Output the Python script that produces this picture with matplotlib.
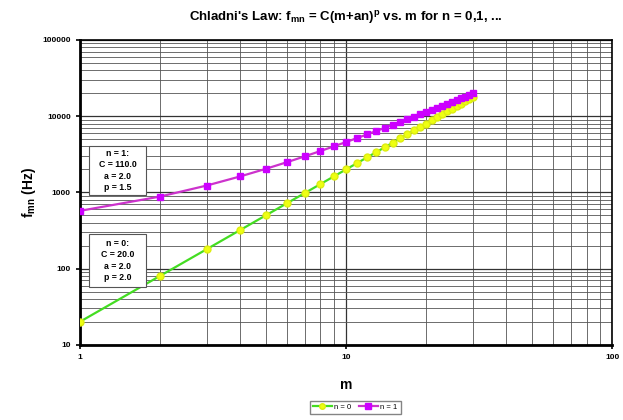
import matplotlib
matplotlib.use("Agg")
import matplotlib.pyplot as plt
from matplotlib.patches import Rectangle
from matplotlib.ticker import FixedLocator, FixedFormatter, NullFormatter, LogLocator

plt.rcParams["font.family"] = ["Liberation Sans", "DejaVu Sans"]
plt.rcParams["mathtext.fontset"] = "custom"
plt.rcParams["mathtext.rm"] = "Liberation Sans:bold"
plt.rcParams["mathtext.bf"] = "Liberation Sans:bold"
plt.rcParams["mathtext.it"] = "Liberation Sans:bold:italic"
plt.rcParams["mathtext.default"] = "bf"

# mode number m
m = list(range(1, 31))

# n = 0 series (C=20, a=2, p=2)
f_n0 = [20, 80, 180, 320, 500, 720, 980, 1280, 1620, 2000,
        2420, 2880, 3380, 3920, 4500, 5120, 5780, 6480, 7220, 8000,
        8820, 9680, 10580, 11520, 12500, 13520, 14580, 15680, 16820, 18000]

# n = 1 series (C=110, a=2, p=1.5)
f_n1 = [571.6, 880.0, 1229.8, 1616.7, 2037.2, 2489.0, 2970.0, 3478.5, 4013.1, 4572.6,
        5155.9, 5762.2, 6390.4, 7040.0, 7710.2, 8400.4, 9110.1, 9838.7, 10585.8, 11350.8,
        12133.4, 12933.3, 13750.0, 14583.3, 15432.6, 16297.8, 17178.7, 18074.8, 18986.1, 19912.1]

y_ticks = [10, 100, 1000, 10000, 100000]
x_ticks = [1, 10, 100]

box_n1 = "n = 1:\nC = 110.0\na = 2.0\np = 1.5"
box_n0 = "n = 0:\nC = 20.0\na = 2.0\np = 2.0"

fig = plt.figure(figsize=(6.23, 4.2), dpi=100)
ax = fig.add_axes([0.128, 0.179, 0.855, 0.726])

ax.set_xscale("log")
ax.set_yscale("log")
ax.set_xlim(1, 100)
ax.set_ylim(10, 100000)

ax.plot(m, f_n0, color="#44dd22", lw=1.6, marker="o", ms=5,
        mfc="#eeff11", mec="#dded11", label="n = 0", zorder=3)
ax.plot(m, f_n1, color="#cc33cc", lw=1.6, marker="s", ms=5,
        mfc="#cc00ff", mec="#cc00ff", label="n = 1", zorder=4)

ax.yaxis.set_major_locator(FixedLocator(y_ticks))
ax.yaxis.set_major_formatter(FixedFormatter([str(v) for v in y_ticks]))
ax.xaxis.set_major_locator(FixedLocator(x_ticks))
ax.xaxis.set_major_formatter(FixedFormatter([str(v) for v in x_ticks]))
ax.yaxis.set_minor_locator(LogLocator(base=10, subs=range(2, 10), numticks=20))
ax.xaxis.set_minor_locator(LogLocator(base=10, subs=range(2, 10), numticks=20))
ax.xaxis.set_minor_formatter(NullFormatter())
ax.yaxis.set_minor_formatter(NullFormatter())

ax.grid(which="major", color="#333333", lw=0.9)
ax.grid(which="minor", color="#555555", lw=0.6)
ax.set_axisbelow(True)
ax.tick_params(which="major", labelsize=6, length=3, width=1.2)
ax.tick_params(which="minor", length=0)
for lbl in ax.get_xticklabels() + ax.get_yticklabels():
    lbl.set_fontweight("bold")
for s in ax.spines.values():
    s.set_linewidth(1.2)
ax.spines["left"].set_linewidth(2)
ax.spines["bottom"].set_linewidth(2)

ax.set_title(r"Chladni's Law: f$_{mn}$ = C(m+an)$^{p}$ vs. m for n = 0,1, ...",
             fontsize=9.5, fontweight="bold", pad=14)
ax.set_ylabel(r"f$_{mn}$ (Hz)", fontsize=10, fontweight="bold", labelpad=3)
ax.set_xlabel("m", fontsize=10, fontweight="bold", labelpad=12)

# parameter boxes (fixed size, axes fraction)
for (y0, y1), txt in [((0.492, 0.652), box_n1), ((0.190, 0.364), box_n0)]:
    ax.add_patch(Rectangle((0.017, y0), 0.108, y1 - y0, transform=ax.transAxes,
                           fc="white", ec="#555555", lw=0.8, zorder=5))
    ax.text(0.071, (y0 + y1) / 2, txt, transform=ax.transAxes, ha="center",
            va="center", fontsize=6.3, fontweight="bold", linespacing=1.35,
            zorder=6)

fig.legend(loc="lower center", bbox_to_anchor=(0.57, 0.005), ncol=2, fontsize=5.5,
           frameon=True, fancybox=False, edgecolor="#666666", handlelength=2.5,
           markerscale=0.8, columnspacing=1.0, handletextpad=0.3,
           borderpad=0.4)

fig.savefig("out.png", dpi=100)
